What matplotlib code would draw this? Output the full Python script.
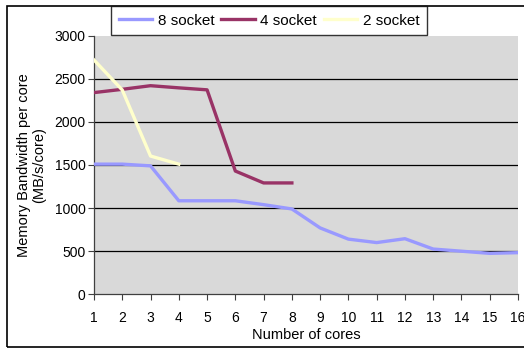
import numpy as np
import matplotlib
matplotlib.use("Agg")
import matplotlib.pyplot as plt
from matplotlib.patches import Rectangle

plt.rcParams['font.family'] = ['Liberation Sans', 'DejaVu Sans']

cores = list(range(1, 17))
bw_8socket = [1510, 1510, 1490, 1085, 1085, 1085, 1040, 990,
              770, 640, 600, 645, 525, 500, 475, 483]
bw_4socket = [2340, 2378, 2420, 2395, 2372, 1430, 1292, 1292]
bw_2socket = [2718, 2370, 1604, 1510]

W, H = 524, 348
fig = plt.figure(figsize=(W / 100, H / 100), dpi=100)
ax = fig.add_axes([94 / W, 1 - 294.3 / H, (518 - 94) / W, (294.3 - 35.7) / H])

ax.set_facecolor('#d9d9d9')
for y in [500, 1000, 1500, 2000, 2500]:
    ax.axhline(y, color='black', lw=0.9, zorder=1)

ax.plot(cores, bw_8socket, color='#9999ff', lw=2.4, label='8 socket', zorder=3)
ax.plot(cores[:len(bw_4socket)], bw_4socket, color='#993366', lw=2.4,
        label='4 socket', zorder=3)
ax.plot(cores[:len(bw_2socket)], bw_2socket, color='#ffffcc', lw=2.4,
        label='2 socket', zorder=3)

ax.set_xlim(1, 16)
ax.set_ylim(0, 3000)
ax.set_xticks(cores)
ax.set_yticks(np.arange(0, 3001, 500))
ax.tick_params(axis='both', labelsize=10, length=4, width=0.8, color='#404040')
ax.tick_params(axis='x', pad=8)
ax.tick_params(axis='y', pad=2)
for side in ['top', 'right']:
    ax.spines[side].set_visible(False)
for side in ['left', 'bottom']:
    ax.spines[side].set_color('#404040')
    ax.spines[side].set_linewidth(0.9)

ax.set_xlabel('Number of cores', fontsize=10.5, labelpad=2)
ax.set_ylabel('Memory Bandwidth per core\n(MB/s/core)', fontsize=10.5,
              labelpad=6, linespacing=1.1)

# chart frame, cut off at the right edge
fig.patches.append(Rectangle((7 / W, 1 - 346.5 / H), 1, (346.5 - 6) / H,
                             transform=fig.transFigure, fill=False,
                             edgecolor='black', lw=1.2))

leg = fig.legend(loc='upper left', bbox_to_anchor=(111 / W, 1 - 6 / H),
                 ncol=3, fontsize=11, frameon=True, fancybox=False,
                 handlelength=2.2, handletextpad=0.35, columnspacing=0.45,
                 borderpad=0.5, borderaxespad=0)
leg.get_frame().set_edgecolor('black')
leg.get_frame().set_linewidth(1.0)

fig.savefig('out.png', dpi=100)
